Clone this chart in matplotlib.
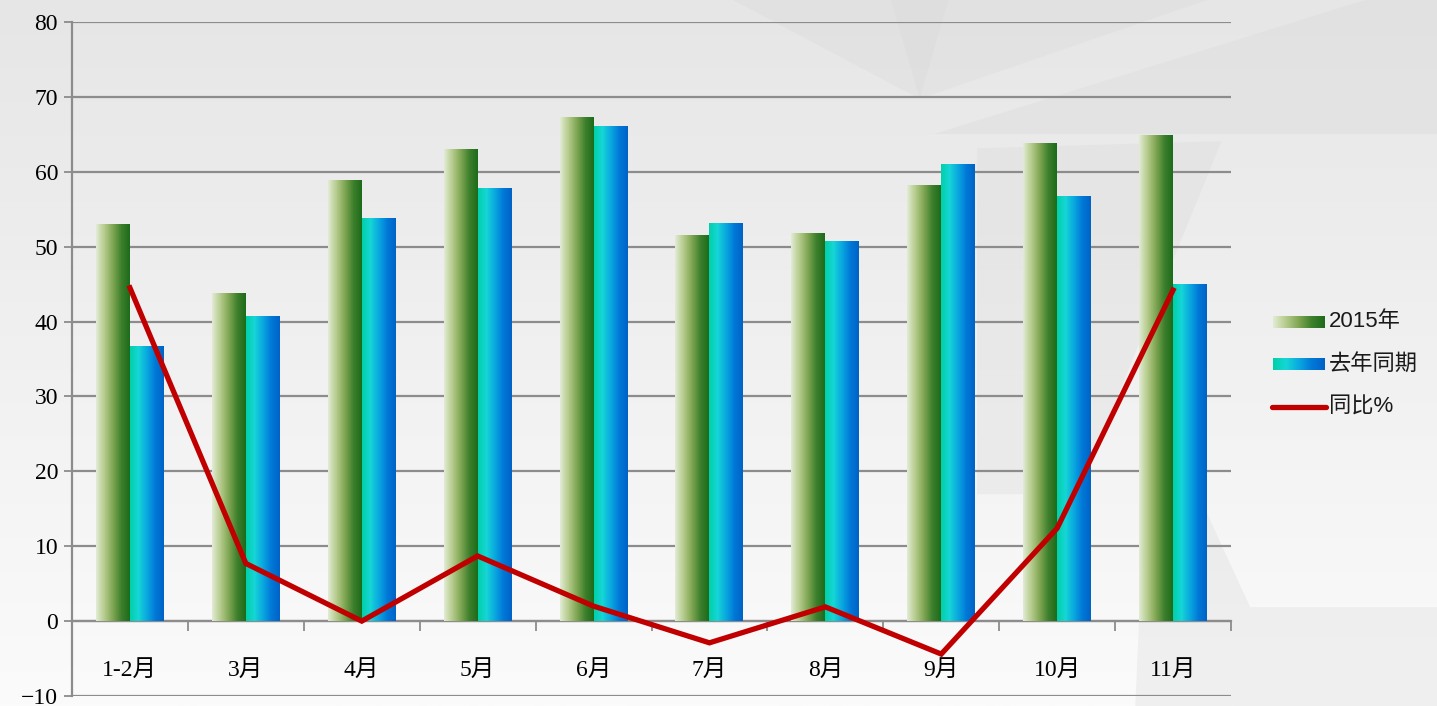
import numpy as np
import matplotlib
matplotlib.use("Agg")
import matplotlib.pyplot as plt
from matplotlib.colors import LinearSegmentedColormap
from matplotlib.lines import Line2D
from matplotlib.patches import Polygon

categories = ["1-2月", "3月", "4月", "5月", "6月", "7月", "8月", "9月", "10月", "11月"]
values_2015 = [53.0, 43.7, 58.8, 62.9, 67.2, 51.5, 51.7, 58.2, 63.7, 64.8]
values_last = [36.7, 40.7, 53.7, 57.8, 66.0, 53.1, 50.7, 60.9, 56.7, 44.9]
yoy_pct = [44.5, 7.7, 0.0, 8.7, 2.0, -2.9, 1.9, -4.4, 12.4, 44.2]
series_names = ["2015年", "去年同期", "同比%"]
y_ticks = [-10, 0, 10, 20, 30, 40, 50, 60, 70, 80]

fonts_num = ['Liberation Serif', 'Noto Sans CJK SC']
fonts_leg = ['Liberation Sans', 'Noto Sans CJK SC']

cmap_green = LinearSegmentedColormap.from_list(
    "g", ["#e2ecd4", "#b5cb8c", "#7fa652", "#3d7f2c", "#1c6b1a"])
cmap_blue = LinearSegmentedColormap.from_list(
    "b", ["#00d0a8", "#16d6d6", "#0aa8e0", "#0078d8", "#0062c6"])

W, H = 1437, 706
fig = plt.figure(figsize=(W / 100, H / 100), dpi=100)

# background
bg = fig.add_axes([0, 0, 1, 1], zorder=-10)
grad = np.linspace(0, 1, 256).reshape(-1, 1)
bgmap = LinearSegmentedColormap.from_list("bg", ["#e6e6e6", "#fbfbfb"])
bg.imshow(grad, aspect="auto", cmap=bgmap, extent=[0, 1, 0, 1], origin="upper")
polys = [
    [(0.51, 1.0), (0.64, 0.86), (0.84, 1.0)],
    [(0.62, 1.0), (0.64, 0.86), (0.66, 1.0)],
    [(0.65, 0.81), (1.0, 0.81), (1.0, 1.0), (0.95, 1.0)],
    [(0.68, 0.79), (0.85, 0.80), (0.75, 0.30), (0.68, 0.30)],
    [(0.79, 0.0), (0.80, 0.45), (0.87, 0.14), (1.0, 0.14), (1.0, 0.0)],
]
for p in polys:
    bg.add_patch(Polygon(p, closed=True, facecolor="#d8d8d8", alpha=0.3,
                         edgecolor="none", transform=bg.transAxes))
bg.set_xlim(0, 1)
bg.set_ylim(0, 1)
bg.axis("off")

ax = fig.add_axes([72 / W, 10 / H, (1231 - 72) / W, (696 - 22) / H])
ax.patch.set_alpha(0)

n = len(categories)
x = np.arange(n)
bw = 0.293

gimg = np.linspace(0, 1, 256).reshape(1, -1)
for i in range(n):
    ax.imshow(gimg, cmap=cmap_green, aspect="auto",
              extent=[x[i] - bw, x[i], 0, values_2015[i]], zorder=3)
    ax.imshow(gimg, cmap=cmap_blue, aspect="auto",
              extent=[x[i], x[i] + bw, 0, values_last[i]], zorder=3)
ax.set_xlim(-0.5, n - 0.5)
ax.set_ylim(-10, 80)

ax.plot(x, yoy_pct, color="#c00000", lw=3.8, zorder=5, solid_joinstyle="miter")

for yv in y_ticks:
    ax.axhline(yv, color="#8c8c8c", lw=1.6, zorder=1)

ax.set_yticks(y_ticks)
ax.set_yticklabels([str(v).replace("-", "\u2212") for v in y_ticks],
                   fontsize=17, family=fonts_num)
ax.tick_params(axis="y", length=6, width=1.3, color="#8c8c8c", pad=4)

ax.spines["top"].set_visible(False)
ax.spines["right"].set_visible(False)
ax.spines["left"].set_color("#8c8c8c")
ax.spines["left"].set_linewidth(1.6)
ax.spines["bottom"].set_position(("data", 0))
ax.spines["bottom"].set_color("#8c8c8c")
ax.spines["bottom"].set_linewidth(1.6)

ax.set_xticks(np.arange(n) + 0.5)
ax.set_xticklabels([])
ax.tick_params(axis="x", which="major", length=7, width=1.3, color="#8c8c8c")
ax.set_xticks(x, minor=True)
ax.set_xticklabels(categories, minor=True, fontsize=17, family=fonts_num)
ax.tick_params(axis="x", which="minor", length=0, pad=28)

# legend (manual)
sw_w, sw_h = 52 / W, 12 / H
rows_y = [322, 364, 407]
for cm, yy, name in [(cmap_green, rows_y[0], series_names[0]),
                     (cmap_blue, rows_y[1], series_names[1])]:
    la = fig.add_axes([1273 / W, (H - yy - 6) / H, sw_w, sw_h])
    la.imshow(gimg, cmap=cm, aspect="auto")
    la.axis("off")
    fig.text(1329 / W, (H - yy) / H, name, fontsize=16, family=fonts_leg,
             va="center", ha="left", color="#1a1a1a")
fig.add_artist(Line2D([1272 / W, 1326 / W], [(H - rows_y[2]) / H] * 2,
                      color="#c00000", lw=3.8, solid_capstyle="round"))
fig.text(1329 / W, (H - rows_y[2]) / H, series_names[2], fontsize=16,
         family=fonts_leg, va="center", ha="left", color="#1a1a1a")

fig.savefig("out.png", dpi=100)
